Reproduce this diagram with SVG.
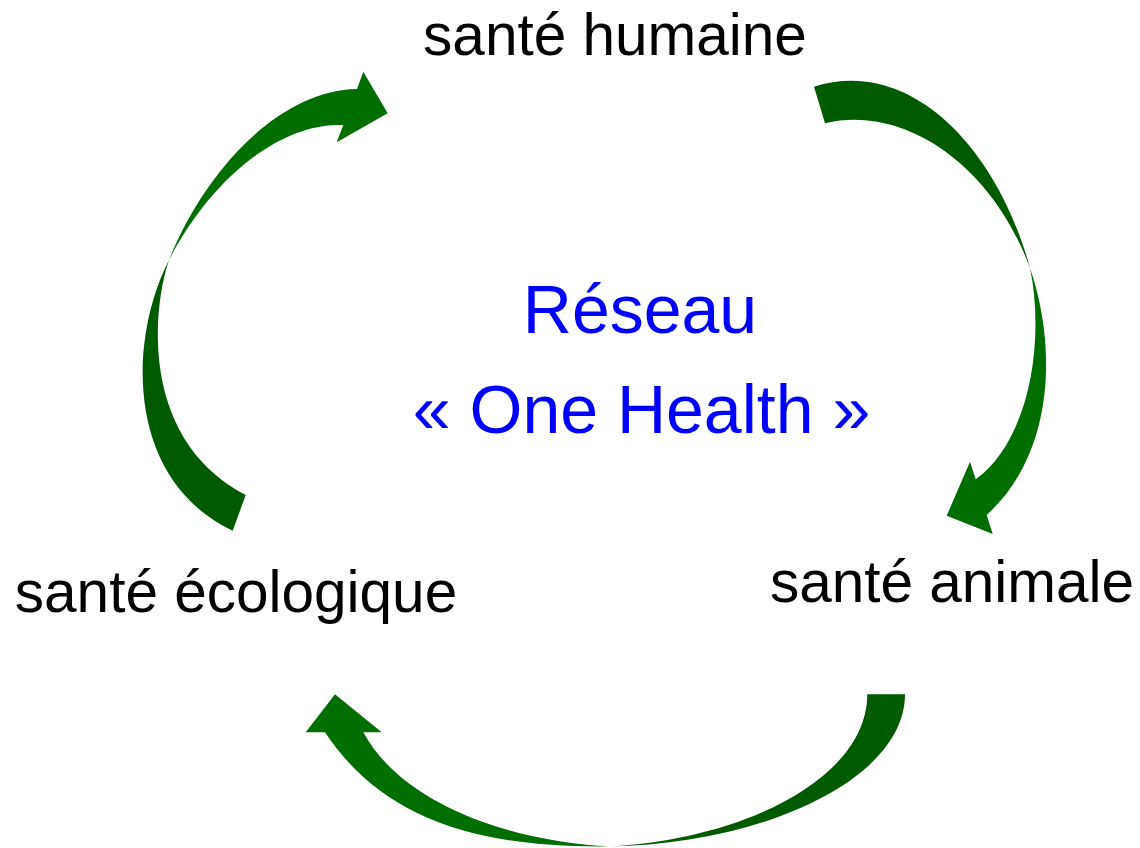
<svg xmlns="http://www.w3.org/2000/svg" width="1140" height="848" viewBox="0 0 1140 848">
<style>
.lbl{font-family:"Liberation Sans",Arial,sans-serif;font-size:58.5px;fill:#000;text-anchor:middle}
.ctr{font-family:"Liberation Sans",Arial,sans-serif;font-size:68px;fill:#0000ff;text-anchor:middle}
.back{fill:#005a00}
.front{fill:#006e00}
</style>
<rect width="1140" height="848" fill="#fff"/>
<g id="connectors">
<g id="arrow-eco-to-human">
<path class="back" d="M232.7,530.7 C125,480 128,340 169,260 C152,310 140,440 245.7,495 Z"/>
<path class="front" d="M169,260 C205,170 280,90 357,89 L363.3,71.7 L387.7,113.3 L336.7,142.3 L343.3,125 C280,122 210,180 169,260 Z"/>
</g>
<g id="arrow-human-to-animal">
<path class="back" d="M814,86.7 C905,57 995,140 1030,268 C990,160 900,105 825,123.3 Z"/>
<path class="front" d="M1030,268 C1055,340 1058,450 986.7,515 L992.7,534 L946.7,515.7 L970,461.7 L975.7,479.3 C1030,440 1045,340 1030,268 Z"/>
</g>
<g id="arrow-animal-to-eco">
<path class="back" d="M867.3,694.3 L905,694.3 C905,780 760,845 608,846.5 C740,840 867,780 867.3,694.3 Z"/>
<path class="front" d="M608,846.5 C470,848 380,815 325,732.3 L305.7,732.3 L335,694.3 L381.7,732.3 L363.3,732.3 C400,800 500,840 608,846.5 Z"/>
</g>
</g>
<g id="node-human"><text class="lbl" x="615" y="55">santé humaine</text></g>
<g id="node-animal"><text class="lbl" x="952" y="602">santé animale</text></g>
<g id="node-eco"><text class="lbl" x="236" y="612">santé écologique</text></g>
<g id="center"><text class="ctr" x="640" y="333">Réseau</text><text class="ctr" x="641.5" y="433">« One Health »</text></g>
</svg>
